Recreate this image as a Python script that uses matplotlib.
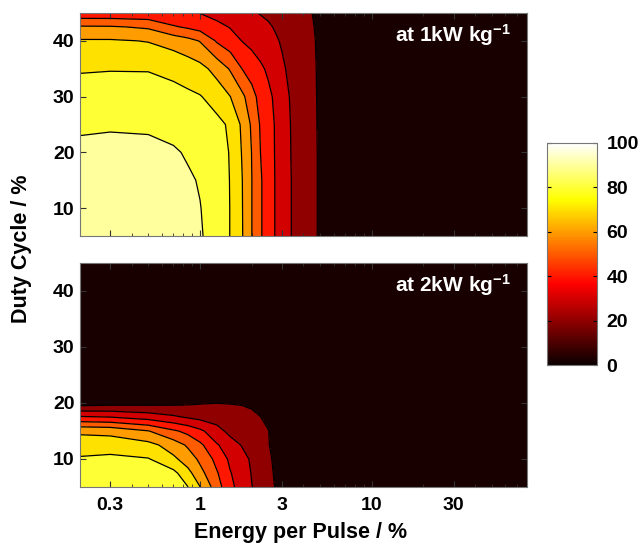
import matplotlib.pyplot as plt
import numpy as np
from matplotlib.colors import Normalize
from matplotlib.cm import ScalarMappable

plt.rcParams['font.family'] = ['Liberation Sans', 'DejaVu Sans']
plt.rcParams['font.weight'] = 'bold'
plt.rcParams['mathtext.fontset'] = 'custom'
plt.rcParams['mathtext.rm'] = 'Liberation Sans:bold'
plt.rcParams['mathtext.bf'] = 'Liberation Sans:bold'
plt.rcParams['mathtext.default'] = 'bf'

# energy per pulse (%) grid, shared by both panels
energy = [0.2, 0.3, 0.5, 0.7, 0.85, 1.0, 1.25, 1.5, 1.75, 2.0,
          2.25, 2.5, 2.75, 3.0, 3.5, 4.0, 5.0, 80]

# duty cycle (%) rows, 1 kW/kg panel
duty_top = [5, 10, 15, 20, 25, 30, 35, 40, 42.5, 45]
eff_1kw = [
    [88, 88, 87, 85, 83, 81, 75, 69.8, 61, 50.2, 41, 35, 29.5, 25, 18.8, 14.5, 9, 0],
    [87, 87, 86, 84, 82.2, 80.3, 75, 69.8, 60.8, 50.2, 41, 35, 29.5, 25, 18.8, 14.5, 9, 0],
    [86, 86, 85, 83, 81.2, 79.3, 74.5, 69.7, 60.6, 50.2, 41, 35, 29.5, 25, 18.8, 14.5, 9, 0],
    [83, 83.5, 83, 81, 79, 77, 73.5, 69.5, 59.7, 49.8, 40, 34.5, 29.3, 24.8, 18.5, 14.5, 9, 0],
    [78, 78.7, 78.3, 77, 75.8, 74.5, 72.5, 68.5, 58.5, 48.5, 39, 34, 29.2, 24.6, 18.3, 14.4, 8.9, 0],
    [73.5, 74, 74, 73, 71.8, 70.5, 66, 60.1, 52.5, 44, 36, 32, 28.3, 24.2, 17.5, 14.2, 8.8, 0],
    [69.3, 69.6, 69.5, 67.5, 65.3, 63, 56.5, 49, 40.1, 35, 31.5, 28.5, 25, 21.3, 17, 14, 8.7, 0],
    [61, 61, 59.5, 56, 53, 49.5, 39, 34, 29.9, 27.5, 25.5, 23.5, 21, 19.2, 16, 13.5, 8.5, 0],
    [51, 50.8, 48.5, 41, 38.5, 36, 32.5, 29.5, 27, 25, 23, 21, 19.3, 17.8, 15, 12.8, 8.3, 0],
    [33, 33, 32.5, 31.5, 30.6, 29.8, 27, 24.5, 22.5, 21, 19.5, 18.5, 17.5, 16.5, 14.3, 12, 8, 0],
]

# duty cycle (%) rows, 2 kW/kg panel
duty_bot = [5, 7.5, 10, 12.5, 15, 17.5, 20, 22.5, 45]
eff_2kw = [
    [77, 77.5, 76.5, 74, 70.2, 60.2, 44.5, 32, 26.4, 20.3, 16.5, 13.5, 9.5, 4, 1, 0, 0, 0],
    [75, 75.5, 74.5, 72.5, 63, 53, 41, 30.5, 25, 19.5, 16, 12.5, 8.8, 3.5, 1, 0, 0, 0],
    [71, 72.2, 70.5, 62, 55, 48, 37, 28, 23.5, 18.5, 15, 11.8, 8, 3, 0.8, 0, 0, 0],
    [65.5, 65.5, 63, 55, 48.5, 42, 31, 24.5, 19.5, 16.5, 13.5, 10.5, 7, 2.5, 0.6, 0, 0, 0],
    [58, 57, 50.3, 41.5, 37, 32, 23.5, 17, 15, 13.5, 12, 10.3, 5.5, 2, 0.5, 0, 0, 0],
    [31, 29.8, 25.5, 21.5, 18.8, 17, 15.5, 14, 13, 12, 10.1, 7, 3.5, 1, 0.2, 0, 0, 0],
    [5, 6.2, 7, 7.8, 8.6, 9.4, 9.9, 9.65, 9.4, 8.4, 6.5, 4, 1.5, 0.5, 0, 0, 0, 0],
    [2, 2.5, 3, 3.3, 3.5, 3.8, 4, 4, 3.8, 3.3, 2.5, 1.5, 0.7, 0.2, 0, 0, 0, 0],
    [0] * 18,
]

panel_labels = ['at 1kW kg$^{-1}$', 'at 2kW kg$^{-1}$']
xtick_vals = [0.3, 1, 3, 10, 30]
xtick_text = ['0.3', '1', '3', '10', '30']

levels = np.arange(0, 101, 10)
hot = plt.get_cmap('hot')
band_colors = [hot(v) for v in [0.02, 0.2, 0.3, 0.4, 0.5, 0.6, 0.7, 0.8, 0.9, 1.0]]

fig = plt.figure(figsize=(6.4, 5.47), dpi=100)
ax1 = fig.add_axes([0.125, 0.5686, 0.698, 0.4077])
ax2 = fig.add_axes([0.125, 0.1097, 0.698, 0.4095])
cax = fig.add_axes([0.8547, 0.3327, 0.078, 0.406])

for ax, duty, eff, lab in [(ax1, duty_top, eff_1kw, panel_labels[0]),
                           (ax2, duty_bot, eff_2kw, panel_labels[1])]:
    ax.contourf(energy, duty, eff, levels=levels, colors=band_colors)
    ax.contour(energy, duty, eff, levels=levels[1:-1], colors='k', linewidths=0.9)
    ax.set_xscale('log')
    ax.set_xlim(0.2, 80)
    ax.set_ylim(5, 45)
    ax.set_yticks([10, 20, 30, 40])
    ax.set_xticks(xtick_vals)
    ax.set_xticklabels(xtick_text)
    ax.tick_params(which='both', direction='in', top=True, right=True, color='#333333')
    ax.tick_params(which='major', length=4, labelsize=14)
    ax.tick_params(which='minor', length=2)
    ax.tick_params(axis='x', pad=7)
    ax.tick_params(axis='y', pad=4)
    for sp in ax.spines.values():
        sp.set_edgecolor('#777777')
    ax.text(0.965, 0.9, lab, transform=ax.transAxes, ha='right', va='center',
            color='white', fontsize=15, fontweight='bold')

ax1.tick_params(labelbottom=False)

cb = fig.colorbar(ScalarMappable(norm=Normalize(0, 100), cmap='hot'), cax=cax,
                  ticks=[0, 20, 40, 60, 80, 100])
cb.ax.tick_params(direction='in', left=True, right=True, labelsize=14, length=3, pad=7)
cb.outline.set_edgecolor('#777777')

fig.text(0.034, 0.545, 'Duty Cycle / %', rotation=90, ha='center', va='center',
         fontsize=15.5, fontweight='bold')
fig.text(0.469, 0.026, 'Energy per Pulse / %', ha='center', va='center',
         fontsize=15.5, fontweight='bold')

fig.savefig('out.png', dpi=100)
